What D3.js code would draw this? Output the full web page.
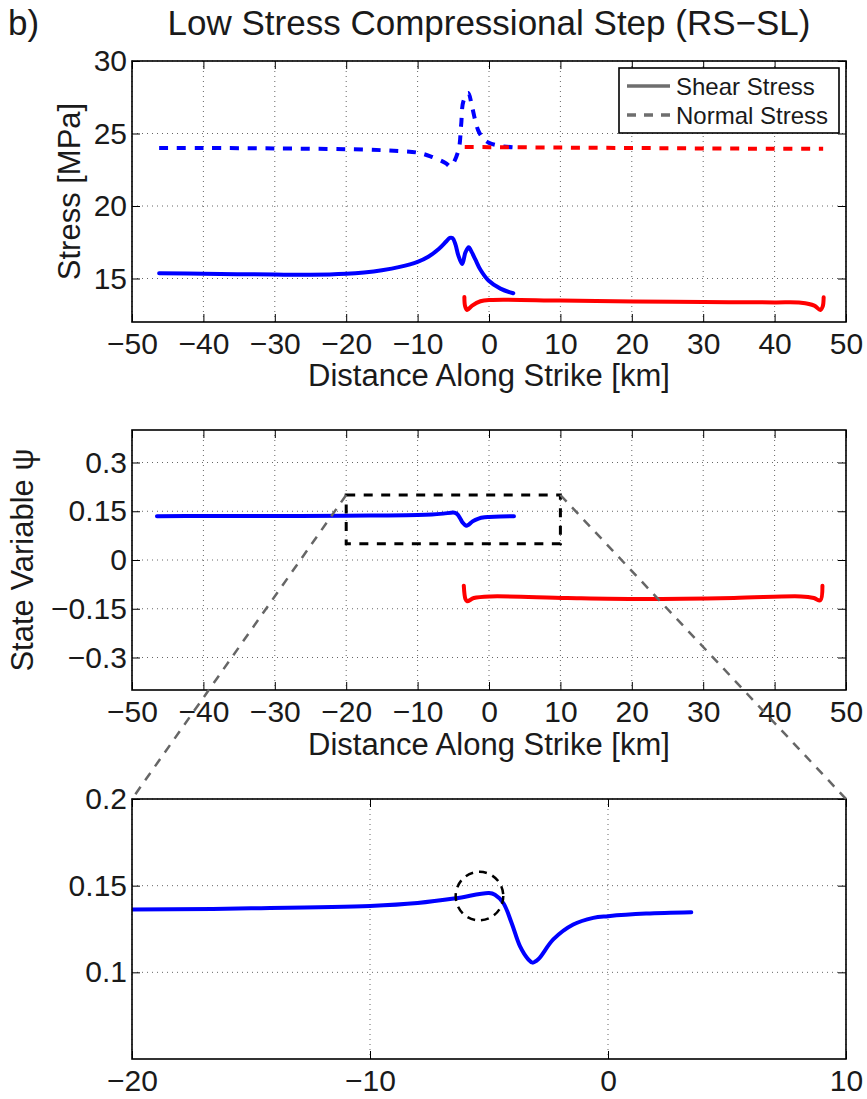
<!DOCTYPE html>
<html>
<head>
<meta charset="utf-8">
<script src="https://cdnjs.cloudflare.com/ajax/libs/d3/7.8.5/d3.min.js"></script>
<style>
  body { margin: 0; background: #fff; }
  svg { display: block; font-family: "Liberation Sans", Arial, Helvetica, sans-serif; }
</style>
</head>
<body>
<div id="chart"></div>
<script>
// ---- data ----
const panelLabel = "b)";
const titleText = "Low Stress Compressional Step (RS\u2212SL)";
const xLabelText = "Distance Along Strike [km]";
const stressLabel = "Stress [MPa]";
const psiLabel = "State Variable \u03c8";
const legendNames = ["Shear Stress", "Normal Stress"];

const xTicksMain = [-50, -40, -30, -20, -10, 0, 10, 20, 30, 40, 50];
const yTicksStress = [15, 20, 25, 30];
const yTicksPsi = [-0.3, -0.15, 0, 0.15, 0.3];
const xTicksZoom = [-20, -10, 0, 10];
const yTicksZoom = [0.1, 0.15, 0.2];

// blue segment (left fault), [km, MPa]
const shearLeft = [
  [-46.2, 15.36], [-40, 15.33], [-30, 15.27], [-25, 15.26], [-20, 15.33], [-17.5, 15.42],
  [-15, 15.57], [-12.5, 15.8], [-10, 16.15], [-8.5, 16.5], [-7, 17.05], [-6, 17.55],
  [-5.5, 17.8], [-5.1, 17.78], [-4.7, 17.35], [-4.3, 16.6], [-3.76, 16.0], [-3.3, 16.8],
  [-2.85, 17.16], [-2.4, 16.8], [-1.9, 16.3], [-1.2, 15.6], [-0.07, 14.86], [1.6, 14.3],
  [3.4, 13.98]
];
const normalLeft = [
  [-46.2, 24.0], [-40, 24.0], [-30, 23.97], [-20, 23.92], [-15, 23.85], [-12.2, 23.78],
  [-10, 23.68], [-8.2, 23.43], [-6.1, 22.97], [-5.4, 22.74], [-4.3, 23.8], [-3.9, 25.6],
  [-3.6, 27.2], [-2.9, 27.8], [-2.4, 26.9], [-1.5, 25.2], [-0.7, 24.6], [0, 24.35],
  [1.5, 24.15], [3.3, 24.05]
];
// red segment (right fault)
const shearRight = [
  [-3.45, 13.72], [-3.35, 13.1], [-3.06, 12.83], [-2.36, 13.13], [-1.2, 13.43], [0.21, 13.52],
  [10, 13.48], [20.3, 13.42], [30, 13.38], [40, 13.35], [43.7, 13.33], [45.56, 13.13],
  [46.4, 12.83], [46.73, 13.06], [46.87, 13.7]
];
const normalRight = [
  [-3.4, 24.07], [0, 24.06], [10, 24.03], [20, 24.0], [30, 23.97], [40, 23.95], [46.8, 23.94]
];
// state variable psi
const psiLeft = [
  [-46.5, 0.135], [-40, 0.1352], [-30, 0.1356], [-20, 0.1362], [-15, 0.1369], [-10, 0.1383],
  [-8, 0.140], [-6.4, 0.1427], [-5.0, 0.1458], [-4.75, 0.1448], [-4.4, 0.140], [-4.05, 0.1285],
  [-3.7, 0.1151], [-3.35, 0.1075], [-3.17, 0.1056], [-2.93, 0.1075], [-2.3, 0.119],
  [-1.46, 0.1276], [-0.62, 0.1314], [0, 0.1324], [1.6, 0.1339], [3.5, 0.1347]
];
const psiRight = [
  [-3.53, -0.079], [-3.3, -0.12], [-3.06, -0.127], [-2.12, -0.117], [0.21, -0.112],
  [10.97, -0.117], [21.25, -0.12], [34.3, -0.117], [43.7, -0.112], [45.5, -0.117],
  [46.4, -0.124], [46.7, -0.079]
];
// zoom window and marked point
const zoomBox = { x0: -20, x1: 10, y0: 0.05, y1: 0.2 };
const circleMark = { x: -5.4, y: 0.144, rx: 1.0, ry: 0.014 };

// ---- layout ----
const W = 867, H = 1099;
const L = 132, R = 846;
const textColor = "#1a1a1a";

const svg = d3.select("#chart").append("svg")
    .attr("width", W)
    .attr("height", H);
svg.append("rect").attr("width", W).attr("height", H).attr("fill", "#fff");

function makePanel(top, bottom, xDom, yDom, xTicks, yTicks) {
    const x = d3.scaleLinear().domain(xDom).range([L, R]);
    const y = d3.scaleLinear().domain(yDom).range([bottom, top]);
    const g = svg.append("g");
    // dotted grid
    g.append("g").selectAll("line").data(xTicks).join("line")
        .attr("x1", d => x(d)).attr("x2", d => x(d))
        .attr("y1", top).attr("y2", bottom)
        .attr("stroke", "#666").attr("stroke-width", 1)
        .attr("stroke-dasharray", "1,4");
    g.append("g").selectAll("line").data(yTicks).join("line")
        .attr("x1", L).attr("x2", R)
        .attr("y1", d => y(d)).attr("y2", d => y(d))
        .attr("stroke", "#666").attr("stroke-width", 1)
        .attr("stroke-dasharray", "1,4");
    return { x, y, g, top, bottom, xTicks, yTicks };
}

function drawFrame(p) {
    const fmt = d3.format("");
    const styleAxis = sel => {
        sel.select(".domain").remove();
        sel.attr("font-family", null).attr("font-size", null);
        sel.selectAll(".tick line").attr("stroke", "#000").attr("stroke-width", 1);
        sel.selectAll("text").attr("fill", textColor).style("font-size", "30px");
    };
    p.g.append("g").attr("transform", `translate(0,${p.bottom})`)
        .call(d3.axisBottom(p.x).tickValues(p.xTicks).tickFormat(fmt)
            .tickSizeInner(-8).tickSizeOuter(0).tickPadding(11))
        .call(styleAxis);
    p.g.append("g").attr("transform", `translate(0,${p.top})`)
        .call(d3.axisTop(p.x).tickValues(p.xTicks).tickFormat("")
            .tickSizeInner(-8).tickSizeOuter(0))
        .call(styleAxis);
    p.g.append("g").attr("transform", `translate(${L},0)`)
        .call(d3.axisLeft(p.y).tickValues(p.yTicks).tickFormat(fmt)
            .tickSizeInner(-8).tickSizeOuter(0).tickPadding(5))
        .call(styleAxis);
    p.g.append("g").attr("transform", `translate(${R},0)`)
        .call(d3.axisRight(p.y).tickValues(p.yTicks).tickFormat("")
            .tickSizeInner(-8).tickSizeOuter(0))
        .call(styleAxis);
    p.g.append("rect")
        .attr("x", L).attr("y", p.top)
        .attr("width", R - L).attr("height", p.bottom - p.top)
        .attr("fill", "none").attr("stroke", "#000").attr("stroke-width", 1.6);
}

function drawLine(p, data, color, dashed, clipId) {
    const line = d3.line()
        .x(d => p.x(d[0]))
        .y(d => p.y(d[1]))
        .curve(d3.curveCatmullRom.alpha(0.5));
    const path = p.g.append("path")
        .datum(data)
        .attr("d", line)
        .attr("fill", "none")
        .attr("stroke", color)
        .attr("stroke-width", 4)
        .attr("stroke-linejoin", "round")
        .attr("stroke-linecap", dashed ? "butt" : "round");
    if (dashed) path.attr("stroke-dasharray", "9,8.7");
    if (clipId) path.attr("clip-path", `url(#${clipId})`);
    return path;
}

// ---- title ----
svg.append("text").attr("x", 8).attr("y", 35)
    .attr("fill", textColor).style("font-size", "35px").text(panelLabel);
svg.append("text").attr("x", (L + R) / 2).attr("y", 35)
    .attr("text-anchor", "middle")
    .attr("fill", textColor).style("font-size", "35px").text(titleText);

// ---- panel 1: stress ----
const p1 = makePanel(61, 322, [-50, 50], [12, 30], xTicksMain, yTicksStress);
drawLine(p1, normalLeft, "#0000ff", true);
drawLine(p1, normalRight, "#ff0000", true);
drawLine(p1, shearLeft, "#0000ff", false);
drawLine(p1, shearRight, "#ff0000", false);
drawFrame(p1);

// legend
const leg = svg.append("g").attr("transform", "translate(619,68)");
leg.append("rect").attr("width", 220).attr("height", 65)
    .attr("fill", "#fff").attr("stroke", "#000").attr("stroke-width", 1.6);
legendNames.forEach((name, i) => {
    const ly = 18 + i * 29;
    leg.append("line")
        .attr("x1", 8).attr("x2", 51).attr("y1", ly).attr("y2", ly)
        .attr("stroke", "#6e6e6e").attr("stroke-width", 3.5)
        .attr("stroke-dasharray", i === 1 ? "9,8" : null);
    leg.append("text")
        .attr("x", 57).attr("y", ly).attr("dy", "0.36em")
        .attr("fill", textColor).style("font-size", "24px")
        .text(name);
});

svg.append("text")
    .attr("transform", `translate(80,${(61 + 322) / 2}) rotate(-90)`)
    .attr("text-anchor", "middle")
    .attr("fill", textColor).style("font-size", "31px")
    .text(stressLabel);
svg.append("text")
    .attr("x", (L + R) / 2).attr("y", 386)
    .attr("text-anchor", "middle")
    .attr("fill", textColor).style("font-size", "31px")
    .text(xLabelText);

// ---- panel 2: state variable ----
const p2 = makePanel(430, 690, [-50, 50], [-0.4, 0.4], xTicksMain, yTicksPsi);
drawLine(p2, psiLeft, "#0000ff", false);
drawLine(p2, psiRight, "#ff0000", false);
p2.g.append("rect")
    .attr("x", p2.x(zoomBox.x0)).attr("y", p2.y(zoomBox.y1))
    .attr("width", p2.x(zoomBox.x1) - p2.x(zoomBox.x0))
    .attr("height", p2.y(zoomBox.y0) - p2.y(zoomBox.y1))
    .attr("fill", "none").attr("stroke", "#000").attr("stroke-width", 3)
    .attr("stroke-dasharray", "9,8.5");
drawFrame(p2);

svg.append("text")
    .attr("transform", `translate(33,${(430 + 690) / 2}) rotate(-90)`)
    .attr("text-anchor", "middle")
    .attr("fill", textColor).style("font-size", "31px")
    .text(psiLabel);
svg.append("text")
    .attr("x", (L + R) / 2).attr("y", 755)
    .attr("text-anchor", "middle")
    .attr("fill", textColor).style("font-size", "31px")
    .text(xLabelText);

// ---- panel 3: zoom ----
const p3 = makePanel(799, 1059, [zoomBox.x0, zoomBox.x1], [zoomBox.y0, zoomBox.y1], xTicksZoom, yTicksZoom);
svg.append("defs").append("clipPath").attr("id", "clip3")
    .append("rect").attr("x", L).attr("y", 799).attr("width", R - L).attr("height", 1059 - 799);
drawLine(p3, psiLeft, "#0000ff", false, "clip3");
p3.g.append("ellipse")
    .attr("cx", p3.x(circleMark.x)).attr("cy", p3.y(circleMark.y))
    .attr("rx", p3.x(circleMark.x + circleMark.rx) - p3.x(circleMark.x))
    .attr("ry", p3.y(circleMark.y - circleMark.ry) - p3.y(circleMark.y))
    .attr("fill", "none").attr("stroke", "#000").attr("stroke-width", 2.5)
    .attr("stroke-dasharray", "8,6");
drawFrame(p3);

// ---- connector lines from zoom box to zoom panel ----
[zoomBox.x0, zoomBox.x1].forEach(xv => {
    svg.append("line")
        .attr("x1", p2.x(xv)).attr("y1", p2.y(zoomBox.y1))
        .attr("x2", p3.x(xv)).attr("y2", p3.y(zoomBox.y1))
        .attr("stroke", "#666").attr("stroke-width", 2.5)
        .attr("stroke-dasharray", "9,8");
});
</script>
</body>
</html>
